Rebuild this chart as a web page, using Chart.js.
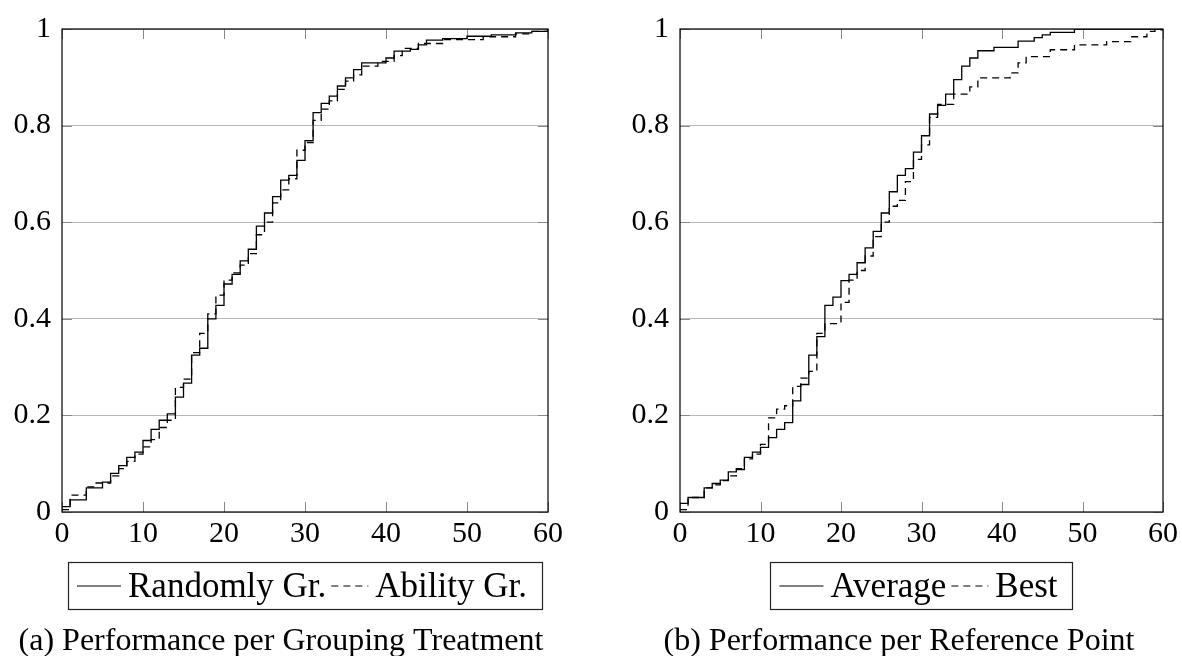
<!DOCTYPE html>
<html>
<head>
<meta charset="utf-8">
<script src="https://cdn.jsdelivr.net/npm/chart.js@4.4.1/dist/chart.umd.min.js"></script>
<style>
  html, body { margin: 0; padding: 0; background: #fff; }
  #wrap { position: relative; width: 1182px; height: 656px; }
  .panel { position: absolute; top: 0; width: 591px; height: 656px; }
</style>
</head>
<body>
<div id="wrap">
  <div class="panel" style="left:0"><canvas id="left" width="591" height="656"></canvas></div>
  <div class="panel" style="left:591px"><canvas id="right" width="591" height="656"></canvas></div>
</div>
<script>
// (a) grouping treatment: distinct values and cumulative share reached at each
const randX = [0, 1, 3, 5, 6, 7, 8, 9, 10, 11, 12, 13, 14, 15, 16, 17, 18, 19, 20, 21, 22, 23, 24, 25, 26, 27, 28, 29, 30, 31, 32, 33, 34, 35, 36, 37, 40, 41, 43, 44, 45, 47, 50, 53, 56, 58, 60]
const randY = [0.011, 0.025, 0.05, 0.062, 0.08, 0.096, 0.113, 0.124, 0.148, 0.171, 0.19, 0.203, 0.238, 0.267, 0.325, 0.339, 0.40, 0.428, 0.472, 0.492, 0.52, 0.544, 0.592, 0.619, 0.653, 0.687, 0.697, 0.728, 0.769, 0.827, 0.846, 0.861, 0.882, 0.899, 0.916, 0.93, 0.94, 0.954, 0.958, 0.967, 0.977, 0.98, 0.985, 0.988, 0.992, 0.995, 1.0]
const abilX = [0, 1, 3, 4, 6, 7, 8, 9, 10, 11, 12, 13, 14, 15, 16, 17, 18, 19, 20, 21, 22, 23, 24, 25, 26, 27, 28, 29, 30, 31, 32, 33, 34, 35, 36, 37, 39, 41, 42, 44, 47, 52, 56, 58, 60]
const abilY = [0.005, 0.035, 0.052, 0.06, 0.075, 0.09, 0.105, 0.12, 0.135, 0.15, 0.175, 0.19, 0.258, 0.275, 0.33, 0.37, 0.41, 0.449, 0.48, 0.495, 0.511, 0.535, 0.574, 0.6, 0.64, 0.667, 0.69, 0.749, 0.765, 0.811, 0.834, 0.851, 0.875, 0.892, 0.905, 0.923, 0.933, 0.945, 0.96, 0.97, 0.978, 0.984, 0.99, 0.995, 1.0]

// (b) reference point
const avgX = [0, 1, 3, 4, 5, 6, 7, 8, 9, 10, 11, 12, 13, 14, 15, 16, 17, 18, 19, 20, 21, 22, 23, 24, 25, 26, 27, 28, 29, 30, 31, 32, 33, 34, 35, 36, 37, 39, 42, 44, 45, 46, 49, 60]
const avgY = [0.018, 0.03, 0.05, 0.059, 0.066, 0.083, 0.088, 0.113, 0.124, 0.134, 0.154, 0.171, 0.185, 0.23, 0.264, 0.325, 0.363, 0.428, 0.445, 0.479, 0.492, 0.516, 0.547, 0.581, 0.619, 0.663, 0.697, 0.711, 0.745, 0.779, 0.824, 0.842, 0.865, 0.895, 0.923, 0.94, 0.955, 0.962, 0.975, 0.982, 0.988, 0.993, 1.0, 1.0]
const bestX = [0, 1, 3, 4, 5, 6, 7, 8, 9, 10, 11, 12, 13, 14, 15, 16, 17, 18, 20, 21, 22, 23, 24, 25, 26, 27, 28, 29, 30, 31, 32, 34, 36, 37, 41, 42, 43, 46, 49, 53, 56, 58, 59, 60]
const bestY = [0.005, 0.03, 0.05, 0.056, 0.065, 0.075, 0.09, 0.11, 0.12, 0.14, 0.195, 0.213, 0.22, 0.26, 0.277, 0.291, 0.37, 0.39, 0.434, 0.48, 0.5, 0.53, 0.57, 0.6, 0.633, 0.645, 0.684, 0.73, 0.76, 0.817, 0.844, 0.865, 0.88, 0.899, 0.909, 0.93, 0.943, 0.957, 0.967, 0.974, 0.984, 0.995, 0.998, 1.0]

const xTicks = { min: 0, max: 60, step: 10 }
const yTicks = { min: 0, max: 1, step: 0.2 }

const FONT = 'Liberation Serif'

// vertical jump at every value, as an empirical cdf
function steps(xs, ys) {
    const pts = [{ x: xs[0], y: ys[0] }]
    for (let i = 1; i < xs.length; i++) {
        pts.push({ x: xs[i], y: ys[i - 1] })
        pts.push({ x: xs[i], y: ys[i] })
    }
    return pts
}

// frame box and the short inner ticks pgfplots draws
const frame = {
    id: 'frame',
    beforeDatasetsDraw(chart) {
        const { ctx, chartArea: a, scales: { x, y } } = chart
        ctx.save()
        ctx.strokeStyle = '#8a8a8a'
        ctx.lineWidth = 1
        ctx.beginPath()
        x.ticks.forEach(t => {
            const px = Math.round(x.getPixelForValue(t.value)) + 0.5
            ctx.moveTo(px, a.bottom); ctx.lineTo(px, a.bottom - 10)
            ctx.moveTo(px, a.top); ctx.lineTo(px, a.top + 10)
        })
        y.ticks.forEach(t => {
            const py = Math.round(y.getPixelForValue(t.value)) + 0.5
            ctx.moveTo(a.left, py); ctx.lineTo(a.left + 10, py)
            ctx.moveTo(a.right, py); ctx.lineTo(a.right - 10, py)
        })
        ctx.stroke()
        ctx.strokeStyle = '#000'
        ctx.lineWidth = 1.2
        ctx.strokeRect(a.left, a.top, a.right - a.left, a.bottom - a.top)
        ctx.restore()
    }
}

// boxed legend under the axis plus the sub caption
const boxLegend = {
    id: 'boxLegend',
    afterDraw(chart, args, opts) {
        const { ctx, chartArea: a } = chart
        ctx.save()
        ctx.font = '35px "' + FONT + '"'
        const items = chart.data.datasets.map(ds => ({
            label: ds.label,
            dash: ds.borderDash || [],
            len: ds.borderDash ? 37 : 44,
            w: ctx.measureText(ds.label).width
        }))
        const padL = 9, padR = 15, gapText = 7, gapItem = 5
        let total = padL + padR + gapItem * (items.length - 1)
        items.forEach(it => { total += it.len + gapText + it.w })
        const left = (a.left + a.right) / 2 - total / 2
        ctx.strokeStyle = '#222'
        ctx.lineWidth = 1.2
        ctx.strokeRect(Math.round(left) + 0.5, opts.top + 0.5, Math.round(total), opts.height)
        let cx = left + padL
        const mid = opts.top + opts.height / 2
        ctx.fillStyle = '#000'
        ctx.textBaseline = 'alphabetic'
        items.forEach(it => {
            ctx.beginPath()
            ctx.setLineDash(it.dash)
            ctx.strokeStyle = '#000'
            ctx.lineWidth = 1.2
            ctx.moveTo(cx, mid + 0.5); ctx.lineTo(cx + it.len, mid + 0.5)
            ctx.stroke()
            ctx.setLineDash([])
            cx += it.len + gapText
            ctx.fillText(it.label, cx, mid + 11)
            cx += it.w + gapItem
        })
        ctx.font = '32px "' + FONT + '"'
        ctx.textAlign = 'center'
        ctx.fillText(opts.caption, opts.captionX, opts.captionY)
        ctx.restore()
    }
}

function makeChart(id, sets, axisW, padRight, caption, captionX) {
    return new Chart(document.getElementById(id), {
        type: 'scatter',
        data: {
            datasets: sets.map(s => ({
                label: s.label,
                data: steps(s.xs, s.ys),
                showLine: true,
                borderColor: '#000',
                borderWidth: 1.3,
                borderDash: s.dashed ? [7, 5] : undefined,
                pointRadius: 0,
                tension: 0
            }))
        },
        options: {
            responsive: false,
            animation: false,
            layout: { padding: { left: 0, top: 24, right: padRight, bottom: 104 } },
            plugins: {
                legend: { display: false },
                tooltip: { enabled: false },
                boxLegend: { top: 562, height: 47, caption: caption, captionX: captionX, captionY: 650 }
            },
            scales: {
                x: {
                    type: 'linear', min: xTicks.min, max: xTicks.max,
                    ticks: { stepSize: xTicks.step, color: '#000', font: { family: FONT, size: 30 }, padding: 4, maxRotation: 0 },
                    grid: { display: false, drawTicks: false },
                    border: { display: false },
                    afterFit(s) { s.height = 40 }
                },
                y: {
                    type: 'linear', min: yTicks.min, max: yTicks.max,
                    ticks: {
                        stepSize: yTicks.step, color: '#000', font: { family: FONT, size: 30 }, padding: 11,
                        callback: v => String(Number(v.toFixed(1)))
                    },
                    grid: { color: '#b8b8b8', lineWidth: 1, drawTicks: false },
                    border: { display: false },
                    afterFit(s) { s.width = axisW }
                }
            }
        },
        plugins: [frame, boxLegend]
    })
}

makeChart('left', [
    { label: 'Randomly Gr.', xs: randX, ys: randY, dashed: false },
    { label: 'Ability Gr.', xs: abilX, ys: abilY, dashed: true }
], 62, 43, '(a) Performance per Grouping Treatment', 281)

makeChart('right', [
    { label: 'Average', xs: avgX, ys: avgY, dashed: false },
    { label: 'Best', xs: bestX, ys: bestY, dashed: true }
], 89, 18, '(b) Performance per Reference Point', 308)
</script>
</body>
</html>
